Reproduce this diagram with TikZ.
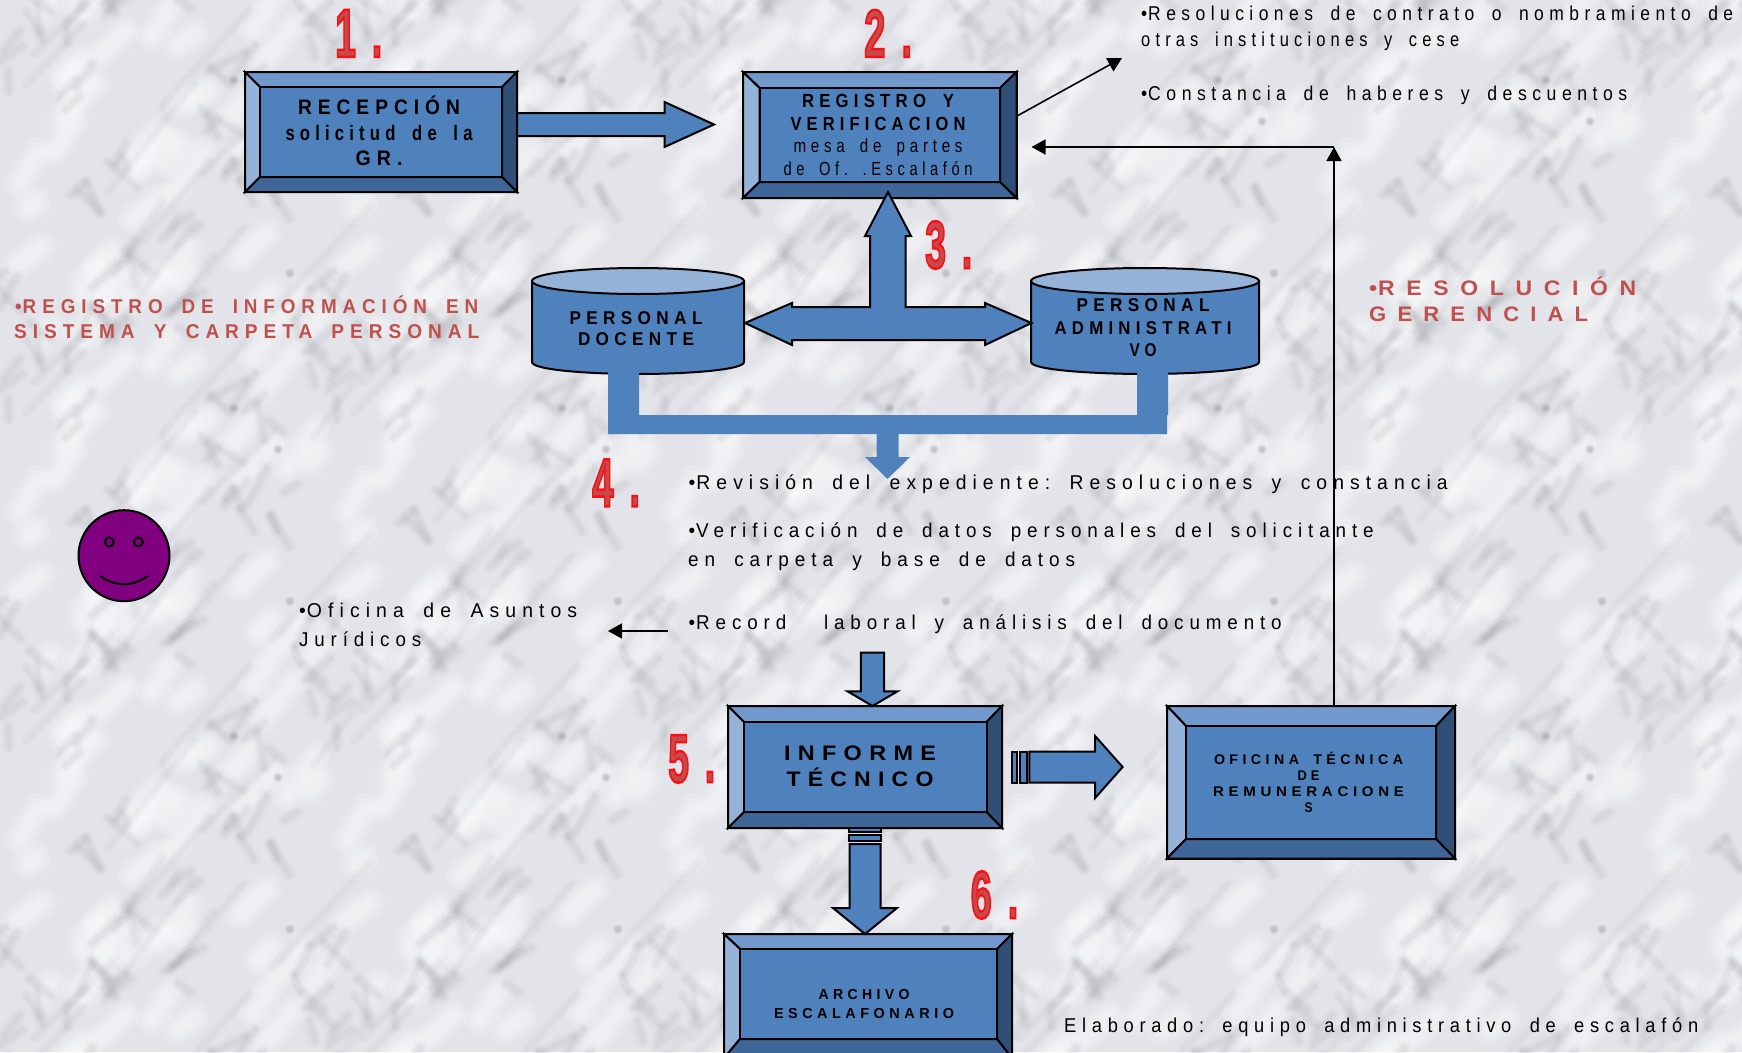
\documentclass[tikz,border=0pt]{standalone}
\usepackage{fontspec}
\usepackage{graphicx}
\usetikzlibrary{calc,arrows.meta}
\setmainfont{Liberation Sans}
\newfontfamily\lsr[LetterSpace=25,FakeStretch=0.8,WordSpace=1.7]{Liberation Sans}
\newfontfamily\lsw[LetterSpace=48,FakeStretch=0.95,WordSpace=1.5]{Liberation Sans}
\AtBeginDocument{\frenchspacing}
\definecolor{face}{HTML}{4F81BD}
\definecolor{btop}{HTML}{7299CE}
\definecolor{bleft}{HTML}{95B3D9}
\definecolor{bright}{HTML}{2F4F78}
\definecolor{bbot}{HTML}{3F6698}
\definecolor{redtxt}{HTML}{C0504D}
\definecolor{marble}{HTML}{E3E4E9}
\definecolor{vein}{HTML}{6E7178}
\definecolor{smileface}{HTML}{800080}
\newcommand\fw[2]{\resizebox{#1pt}{\height}{#2}}
\newcommand\bl{•\kern.04em}
\newcommand\tline[6][]{\node[tline,#1] (#2) at (#3,{#4+7}) {\fw{#5}{#6}};}
% bevelled box: name, outer x0 y0 x1 y1, inner x0 y0 x1 y1
\newcommand\bevelbox[9]{%
  \node[frame,minimum width={(#4-#2)*1pt},minimum height={(#5-#3)*1pt}] (#1) at ({(#2+#4)/2},{(#3+#5)/2}) {};
  \draw[bev,fill=btop] (#2,#3) -- (#4,#3) -- (#8,#7) -- (#6,#7) -- cycle;
  \draw[bev,fill=bleft] (#2,#3) -- (#6,#7) -- (#6,#9) -- (#2,#5) -- cycle;
  \draw[bev,fill=bright] (#4,#3) -- (#8,#7) -- (#8,#9) -- (#4,#5) -- cycle;
  \draw[bev,fill=bbot] (#2,#5) -- (#6,#9) -- (#8,#9) -- (#4,#5) -- cycle;
  \draw[bev,fill=face] (#6,#7) rectangle (#8,#9);
}
% block arrow between two named points: [style]{from}{to}{half shaft}{half head}{head length}
\newcommand\blockarrow[6][]{%
  \coordinate (baS) at (#2);
  \coordinate (baT) at (#3);
  \coordinate (baH) at ($(baT)!#6pt!(baS)$);
  \draw[barrow,#1] ($(baS)!#4pt!90:(baT)$) -- ($(baH)!#4pt!-90:(baS)$) -- ($(baH)!#5pt!-90:(baS)$) -- (baT)
     -- ($(baH)!#5pt!90:(baS)$) -- ($(baH)!#4pt!90:(baS)$) -- ($(baS)!#4pt!-90:(baT)$) -- cycle;
}
% big red outlined numeral: name, x left, y bottom, width, height, text
\newcommand\bignum[5]{%
  \node[bignumst] (#1) at (#2,#3) {\special{pdf:code q 2 Tr 2.4 w 1 0.05 0.08 RG 0.76 0.3 0.3 rg}\resizebox{#4pt}{47pt}{\fontsize{65}{65}\selectfont\bfseries #5}\special{pdf:code Q}};
}
\tikzset{
  tline/.style={inner sep=0pt,anchor=base west,font=\lsr\fontsize{20}{20}\selectfont},
  redline/.style={text=redtxt,font=\lsr\bfseries\fontsize{20}{20}\selectfont},
  redwide/.style={text=redtxt,font=\lsw\bfseries\fontsize{21}{21}\selectfont},
  frame/.style={draw=black,line width=2pt,inner sep=0pt,outer sep=0pt},
  bev/.style={draw=black,line width=2pt,line join=miter},
  barrow/.style={draw=black,fill=face,line width=2pt,line join=miter},
  blue/.style={fill=face,draw=none},
  boxlab/.style={inner sep=0pt,align=center},
  thinarrow/.style={draw=black,line width=1.6pt,-{Triangle[length=14pt,width=15pt]}},
  bignumst/.style={inner sep=0pt,anchor=south west},
  can/.style={draw=black,line width=2pt,fill=face},
  cantop/.style={draw=black,line width=2pt,fill=bleft},
  soft/.style={line cap=round,line join=round}
}
\begin{document}
\begin{tikzpicture}[x=1pt,y=-1pt]
\path[use as bounding box] (0,0) rectangle (1742,1052);
\begin{scope}
\clip (0,0) rectangle (1742,1052);
% --- marble background, a repeated tile of soft blotches and veins
\fill[marble] (0,0) rectangle (1742,1052);
\foreach \ti in {0,...,5}{\foreach \tj in {0,...,3}{
  \pgfmathsetseed{2024}
  \begin{scope}[shift={({\ti*328-10},{\tj*328-60})}]
    % pale blotches
    \foreach \k in {1,...,40}{
      \pgfmathsetmacro\px{rnd*328}\pgfmathsetmacro\py{rnd*328}
      \pgfmathsetmacro\pa{-60+rnd*24}\pgfmathsetmacro\pl{10+rnd*40}
      \draw[white,opacity=.16,line width=30pt,soft] (\px,\py) -- ++(\pa:\pl);
      \draw[white,opacity=.18,line width=20pt,soft] (\px,\py) -- ++(\pa:\pl);
      \draw[white,opacity=.20,line width=11pt,soft] (\px,\py) -- ++(\pa:\pl);
    }
    % long streaks along the grain
    \foreach \k in {1,...,12}{
      \pgfmathsetmacro\px{rnd*328}\pgfmathsetmacro\py{rnd*328}
      \pgfmathsetmacro\pa{-58+rnd*16}\pgfmathsetmacro\pl{70+rnd*90}
      \draw[vein,opacity=.03,line width=10pt,soft] (\px,\py) -- ++(\pa:\pl);
      \draw[vein,opacity=.035,line width=5pt,soft] (\px,\py) -- ++(\pa:\pl);
    }
    % vein clusters
    \foreach \c in {1,...,20}{
      \pgfmathsetmacro\cx{rnd*328}\pgfmathsetmacro\cy{rnd*328}
      \foreach \k in {1,...,3}{
        \pgfmathsetmacro\pr{rnd}
        \pgfmathsetmacro\pa{\pr<.55 ? -65+rnd*40 : 30+rnd*60}\pgfmathsetmacro\pl{12+rnd*30}
        \pgfmathsetmacro\ox{(rnd-.5)*30}\pgfmathsetmacro\oy{(rnd-.5)*30}
        \draw[vein,opacity=.025,line width=14pt,soft] (\cx+\ox,\cy+\oy) -- ++(\pa:\pl);
        \draw[vein,opacity=.035,line width=9.5pt,soft] (\cx+\ox,\cy+\oy) -- ++(\pa:\pl);
        \draw[vein,opacity=.05,line width=5.5pt,soft] (\cx+\ox,\cy+\oy) -- ++(\pa:\pl);
      }
    }
    % dark specks
    \foreach \k in {1,...,3}{
      \pgfmathsetmacro\px{rnd*328}\pgfmathsetmacro\py{rnd*328}
      \fill[vein,opacity=.12] (\px,\py) circle (5pt);
      \fill[vein,opacity=.2] (\px,\py) circle (3pt);
    }
  \end{scope}
}}
% --- boxes
\bevelbox{box1}{245}{72}{517}{192}{260}{87}{502}{177}
\node[boxlab,font=\lsr\bfseries\fontsize{21}{25.5}\selectfont] (box1t) at (379,131) {\fw{162}{RECEPCIÓN}\\\fw{187}{solicitud de la}\\\fw{47}{GR.}};
\bevelbox{box2}{743}{72}{1016.5}{198}{759.5}{88}{1000}{182}
\node[boxlab,font=\lsr\bfseries\fontsize{19}{22.5}\selectfont] (box2t) at (878,135) {\fw{152}{REGISTRO Y}\\\fw{175}{VERIFICACION}\\{\mdseries\fw{169}{mesa de partes}}\\{\mdseries\fw{189}{de Of. .Escalafón}}};
% --- thin connectors
\coordinate (tr) at (1122,58);
\coordinate (c2e) at (1017,116);
\draw[thinarrow] (c2e) -- (tr);
% --- block arrow 1 to 2
\coordinate (a12t) at (714,124.5);
\blockarrow{box1.east |- a12t}{a12t}{11.5}{22.5}{49.5}
% --- cylinders
\draw[can] (532,281) -- (532,362) .. controls (532,370) and (590,374) .. (638,374) .. controls (686,374) and (744,370) .. (744,362) -- (744,281) -- cycle;
\draw[cantop] (638,281) ellipse [x radius=106,y radius=13];
\node[boxlab,font=\lsr\bfseries\fontsize{18.5}{21.5}\selectfont] (cyl1) at (636,328.5) {\fw{133}{PERSONAL}\\\fw{116}{DOCENTE}};
\draw[can] (1031,281) -- (1031,362) .. controls (1031,370) and (1095,374) .. (1145,374) .. controls (1195,374) and (1259,370) .. (1259,362) -- (1259,281) -- cycle;
\draw[cantop] (1145,281) ellipse [x radius=114,y radius=13];
\node[boxlab,font=\lsr\bfseries\fontsize{18.5}{22.5}\selectfont] (cyl2) at (1143,328) {\fw{133}{PERSONAL}\\\fw{177}{ADMINISTRATI}\\\fw{27}{VO}};
% --- three-way arrow
\draw[barrow] (888,192) -- (911,236) -- (905.6,236) -- (905.6,307) -- (985,307) -- (985,303) -- (1031.5,323) -- (985,345) -- (985,340) -- (792,340) -- (792,345) -- (745,323) -- (792,303) -- (792,307) -- (870,307) -- (870,236) -- (865,236) -- cycle;
% --- collector under the cylinders
\fill[blue] (608,372) -- (639,372) -- (639,415) -- (1137,415) -- (1137,372) -- (1168,372) -- (1168,415) -- (1167,415) -- (1167,434) -- (608,434) -- cycle;
\coordinate (a4s) at (887.5,433);
\coordinate (a4t) at (887.5,479);
\blockarrow[draw=none]{a4s}{a4t}{11}{22.5}{22}
% --- lower boxes
\bevelbox{box5}{728}{706}{1002}{828}{744}{722}{986.5}{812}
\node[boxlab,font=\lsr\bfseries\fontsize{21}{26}\selectfont] (box5t) at (860,766) {\fw{152}{INFORME}\\\fw{147}{TÉCNICO}};
\bevelbox{box4}{1167}{706}{1455}{858.5}{1186}{726}{1436}{839}
\node[boxlab,font=\lsr\bfseries\fontsize{14}{16}\selectfont] (box4t) at (1308.5,782) {\fw{189}{OFICINA TÉCNICA}\\\fw{22}{DE}\\\fw{191}{REMUNERACIONE}\\\fw{8}{S}};
\bevelbox{box6}{724}{934}{1012}{1058}{740}{949}{997}{1039}
\node[boxlab,font=\lsr\bfseries\fontsize{14.5}{19}\selectfont] (box6t) at (864,1003.5) {\fw{91}{ARCHIVO}\\\fw{180}{ESCALAFONARIO}};
% --- block arrows around the lower boxes
\coordinate (a45s) at (872.5,652.7);
\blockarrow{a45s}{box5.north -| a45s}{11.7}{25}{14.7}
\draw[barrow] (1012,751.7) rectangle (1017,782.7);
\draw[barrow] (1019.5,751.7) rectangle (1027,782.7);
\coordinate (a54s) at (1029.4,767);
\coordinate (a54t) at (1122.6,767);
\blockarrow{a54s}{a54t}{15.5}{31}{27.5}
\draw[barrow] (849.4,828) rectangle (880.5,832);
\draw[barrow] (849.4,835) rectangle (880.5,841);
\coordinate (a56s) at (865,844);
\blockarrow{a56s}{box6.north -| a56s}{15.5}{32}{26}
% --- thin connectors, continued
\coordinate (jn) at (1334,147);
\draw[thinarrow] (box4.north -| jn) -- (jn);
\draw[thinarrow,shorten >=15pt] (jn) -- (box2.east |- jn);
\coordinate (ojl) at (608,631);
\coordinate (ojr) at (668,631);
\draw[thinarrow] (ojr) -- (ojl);
% --- numerals
\bignum{n1}{335}{57}{47}{1\hspace{.42em}.}
\bignum{n2}{864}{57}{48}{2\hspace{.42em}.}
\bignum{n3}{925}{269}{47}{3\hspace{.42em}.}
\bignum{n4}{592}{506.5}{48}{4\hspace{.42em}.}
\bignum{n5}{668}{783}{47}{5\hspace{.42em}.}
\bignum{n6}{970.5}{919}{47.5}{6\hspace{.42em}.}
% --- free text
\tline{t1}{1141}{13}{592}{\bl Resoluciones de contrato o nombramiento de}
\tline{t2}{1141}{39}{318}{otras instituciones y cese}
\tline{t3}{1141}{93}{486}{\bl Constancia de haberes y descuentos}
\tline[redwide]{t4}{1369}{288}{267}{\bl RESOLUCIÓN}
\tline[redwide]{t5}{1369}{314}{219}{GERENCIAL}
\tline[redline]{t6}{15}{306.5}{463}{\bl REGISTRO DE INFORMACIÓN EN}
\tline[redline]{t7}{14}{331.5}{465}{SISTEMA Y CARPETA PERSONAL}
\tline{t8}{688.5}{482.5}{759}{\bl Revisión del expediente: Resoluciones y constancia}
\tline{t9}{688.5}{530.5}{685}{\bl Verificación de datos personales del solicitante}
\tline{t10}{688}{559}{387}{en carpeta y base de datos}
\tline{t11}{688.5}{622.5}{593}{\bl Record\ \ laboral y análisis del documento}
\tline{t12}{299}{610}{278}{\bl Oficina de Asuntos}
\tline{t13}{299}{639}{122}{Jurídicos}
\tline{t14}{1064}{1025.5}{634}{Elaborado: equipo administrativo de escalafón}
% --- smiley
\node[circle,draw=black,line width=2pt,fill=smileface,minimum size=91pt,inner sep=0pt] (face) at (124,555.7) {};
\draw[line width=2pt] (109.3,542) circle (4.5pt);
\draw[line width=2pt] (138.3,542) circle (4.5pt);
\draw[line width=2pt] (100,575.7) .. controls (115,587) and (133,587) .. (148,575.7);
\end{scope}
\end{tikzpicture}
\end{document}
